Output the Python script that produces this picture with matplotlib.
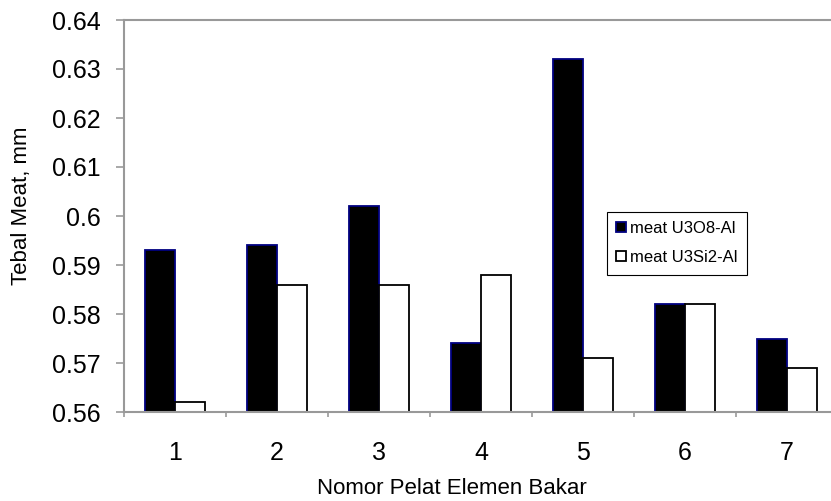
import matplotlib
matplotlib.use("Agg")
import matplotlib.pyplot as plt
import numpy as np

categories = ["1", "2", "3", "4", "5", "6", "7"]
u3o8 = [0.593, 0.594, 0.602, 0.574, 0.632, 0.582, 0.575]
u3si2 = [0.562, 0.586, 0.586, 0.588, 0.571, 0.582, 0.569]
yticks = [0.56, 0.57, 0.58, 0.59, 0.6, 0.61, 0.62, 0.63, 0.64]
ytick_labels = ["0.56", "0.57", "0.58", "0.59", "0.6", "0.61", "0.62", "0.63", "0.64"]

plt.rcParams['font.family'] = ['Liberation Sans', 'DejaVu Sans']

W, H = 831, 501
fig = plt.figure(figsize=(W / 100, H / 100), dpi=100)
L, R, T, B = 124, 838, 20, 412
ax = fig.add_axes([L / W, 1 - B / H, (R - L) / W, (B - T) / H])

x = np.arange(1, len(categories) + 1)
bw = 0.294
bottom = 0.56
ax.bar(x - bw / 2, np.array(u3o8) - bottom, bw, bottom=bottom, color="black",
       edgecolor="#000080", linewidth=1.3, label="meat U3O8-Al")
ax.bar(x + bw / 2, np.array(u3si2) - bottom, bw, bottom=bottom, color="white",
       edgecolor="black", linewidth=1.3, label="meat U3Si2-Al")

ax.set_xlim(0.5, len(categories) + 0.5)
ax.set_ylim(0.56, 0.64)
ax.set_yticks(yticks)
ax.set_yticklabels(ytick_labels, fontsize=18)
ax.set_xticks(x)
ax.set_xticklabels(categories, fontsize=18)
ax.set_xticks(np.arange(0.5, len(categories) + 1, 1), minor=True)
ax.tick_params(axis='x', which='major', length=0, pad=21)
ax.tick_params(axis='x', which='minor', length=3.6, color="#999999", width=1.2)
ax.tick_params(axis='y', which='major', length=5.76, color="#999999", width=1.2, pad=11)

for s in ["left", "bottom", "top"]:
    ax.spines[s].set_color("#999999")
    ax.spines[s].set_linewidth(1.5)
ax.spines["right"].set_visible(False)

ax.set_xlabel("Nomor Pelat Elemen Bakar", fontsize=16)
ax.set_ylabel("Tebal Meat, mm", fontsize=16)
ax.xaxis.set_label_coords((451.5 - L) / (R - L), -(488 - B) / (B - T))
ax.yaxis.set_label_coords(-(L - 21) / (R - L), (B - 205.5) / (B - T))
ax.xaxis.label.set_verticalalignment('center')
ax.yaxis.label.set_verticalalignment('center')

leg = ax.legend(loc="upper left", bbox_to_anchor=((607 - L) / (R - L), (B - 212) / (B - T)),
                borderaxespad=0, fontsize=12, frameon=True, fancybox=False,
                edgecolor="black", framealpha=1, handlelength=0.6, handleheight=0.55,
                handletextpad=0.25, labelspacing=0.85, borderpad=0.55)
leg.get_frame().set_linewidth(0.8)

fig.savefig("out.png", dpi=100)
